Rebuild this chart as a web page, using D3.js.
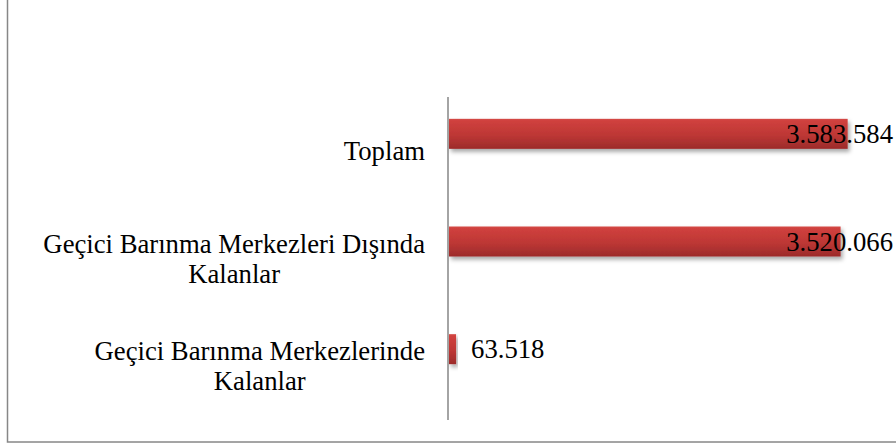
<!DOCTYPE html>
<html>
<head>
<meta charset="utf-8">
<script src="https://cdn.jsdelivr.net/npm/d3@7"></script>
<style>
  body { margin: 0; background: #fff; }
  svg { display: block; }
</style>
</head>
<body>
<script>
'use strict';

// categories, top to bottom, each split into its display lines
const categories = ["Toplam", "Dışında", "Merkezlerinde"];
const categoryLines = [
  ["Toplam"],
  ["Geçici Barınma Merkezleri Dışında", "Kalanlar"],
  ["Geçici Barınma Merkezlerinde", "Kalanlar"]
];
const values = [3583584, 3520066, 63518];
const xDomain = [0, 4000000];

(function() {
  const width = 896, height = 448;
  const fontSize = 26.7, lineHeight = 30;
  const fontFamily = "'Liberation Serif', 'DejaVu Serif', serif";
  const barHeight = 30, barShift = 17; // bars sit in the upper part of each band

  const svg = d3.select('body').append('svg')
    .attr('width', width)
    .attr('height', height)
    .style('font-family', fontFamily);

  // gradient + shadow for the bars
  const defs = svg.append('defs');
  const grad = defs.append('linearGradient')
    .attr('id', 'barGrad')
    .attr('x1', 0).attr('y1', 0).attr('x2', 0).attr('y2', 1);
  grad.append('stop').attr('offset', '0%').attr('stop-color', '#d44a46');
  grad.append('stop').attr('offset', '8%').attr('stop-color', '#cf403d');
  grad.append('stop').attr('offset', '55%').attr('stop-color', '#bd3735');
  grad.append('stop').attr('offset', '100%').attr('stop-color', '#9c2b2a');

  const shadow = defs.append('filter')
    .attr('id', 'shadow')
    .attr('x', '-10%').attr('y', '-30%')
    .attr('width', '130%').attr('height', '180%');
  shadow.append('feDropShadow')
    .attr('dx', 2).attr('dy', 3)
    .attr('stdDeviation', 2)
    .attr('flood-color', '#000')
    .attr('flood-opacity', 0.35);

  // chart border (top and right edges fall outside the picture)
  svg.append('rect')
    .attr('x', 7.5).attr('y', -5)
    .attr('width', 905).attr('height', 447)
    .attr('fill', 'none')
    .attr('stroke', '#878787')
    .attr('stroke-width', 1.5);

  const x = d3.scaleLinear()
    .domain(xDomain)
    .range([449, 894]);

  const y = d3.scaleBand()
    .domain(categories)
    .range([97, 420])
    .paddingInner(0);

  const barY = (d, i) => y(categories[i]) + y.bandwidth() / 2 - barShift;

  // bars
  svg.append('g')
    .selectAll('rect')
    .data(values)
    .enter()
    .append('rect')
      .attr('x', x(0))
      .attr('y', (d, i) => barY(d, i) - barHeight / 2)
      .attr('width', (d) => x(d) - x(0))
      .attr('height', barHeight)
      .attr('fill', 'url(#barGrad)')
      .attr('filter', 'url(#shadow)');

  // vertical category axis
  svg.append('line')
    .attr('x1', 448).attr('x2', 448)
    .attr('y1', y.range()[0]).attr('y2', y.range()[1])
    .attr('stroke', '#868686')
    .attr('stroke-width', 1.5);

  // category labels: lines centered, block right-aligned next to the axis
  const labelRight = 425;
  categoryLines.forEach((lines, i) => {
    const g = svg.append('g');
    const cy = y(categories[i]) + y.bandwidth() / 2;
    const texts = lines.map((ln, j) => g.append('text')
      .attr('y', cy + (j - (lines.length - 1) / 2) * lineHeight)
      .attr('dominant-baseline', 'central')
      .attr('text-anchor', 'middle')
      .attr('font-family', fontFamily)
      .attr('fill', '#000')
      .style('font-size', fontSize + 'px')
      .text(ln));
    const maxW = d3.max(texts, (t) => t.node().getComputedTextLength());
    texts.forEach((t) => t.attr('x', labelRight - maxW / 2));
  });

  // value labels, Turkish number format
  const tr = d3.formatLocale({ decimal: ",", thousands: ".", grouping: [3], currency: ["", " ₺"] });
  const fmt = tr.format(",d");
  svg.append('g')
    .selectAll('text')
    .data(values)
    .enter()
    .append('text')
      .attr('y', (d, i) => barY(d, i))
      .attr('dominant-baseline', 'central')
      .attr('font-family', fontFamily)
      .attr('fill', '#000')
      .style('font-size', fontSize + 'px')
      .text((d) => fmt(d))
      .each(function(d) {
        const w = this.getComputedTextLength();
        d3.select(this).attr('x', Math.min(x(d) + 15, 893 - w));
      });
})();
</script>
</body>
</html>
